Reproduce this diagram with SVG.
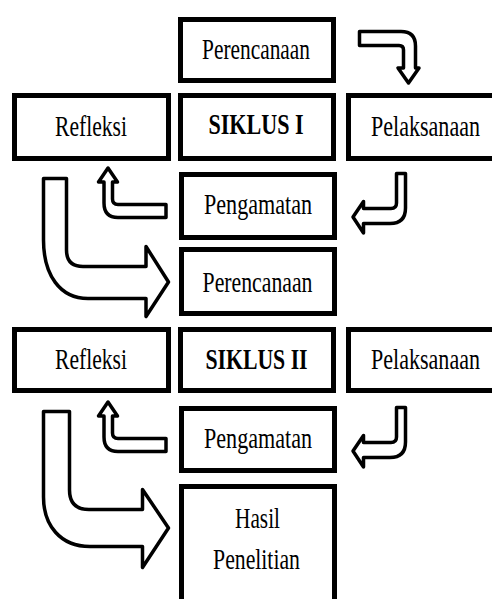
<svg xmlns="http://www.w3.org/2000/svg" width="492" height="599" viewBox="0 0 492 599">
<style>
.box{fill:#fff;stroke:#000;stroke-width:5}
.t{font-family:"Liberation Serif","Times New Roman",serif;font-size:30px;fill:#000;text-anchor:middle}
.b{font-weight:bold}
.arr{fill:#fff;stroke:#000;stroke-width:3.5;stroke-linejoin:round}
</style>
<rect width="492" height="599" fill="#fff"/>
<g id="connectors">
<path class="arr" d="M359.5,31.5 H401 Q415.5,31.5 415.5,46 V68 H419 L408.5,83 L398,68 H403.5 V50 Q403.5,45.5 399,45.5 H359.5 Z"/>
<path class="arr" d="M396.5,173.5 H405.5 V208 Q405.5,223.5 390,223.5 H363.5 V233 L353,217 L363.5,201.5 V208.5 H391 Q396.5,208.5 396.5,203 Z"/>
<path class="arr" d="M108,168 L117.5,182 H112.5 V199 Q112.5,204.5 118,204.5 H166 V217.5 H118 Q104,217.5 104,203 V182 H98.5 Z"/>
<path class="arr" d="M43.5,178.5 H66.5 V250 Q66.5,266.5 83,266.5 H146 V246.5 L168.5,282 L146,316.5 V298.5 H88 C60,298.5 43.5,275 43.5,240 Z"/>
<path class="arr" d="M396.5,407.5 H405.5 V442 Q405.5,457.5 390,457.5 H363.5 V467 L353,451 L363.5,435.5 V442.5 H391 Q396.5,442.5 396.5,437 Z"/>
<path class="arr" d="M108,402 L117.5,416 H112.5 V433 Q112.5,438.5 118,438.5 H166 V451.5 H118 Q104,451.5 104,437 V416 H98.5 Z"/>
<path class="arr" d="M43.5,411.5 H69.5 V490 Q69.5,509.5 89,509.5 H142.5 V489.5 L168.5,528 L142.5,567.5 V546.5 H90 C60,546.5 43.5,525 43.5,497 Z"/>
</g>
<g id="perencanaan1"><rect class="box" x="180.5" y="19.5" width="153" height="61"/><text class="t" transform="translate(256,59) scale(0.712,1)">Perencanaan</text></g>
<g id="refleksi1"><rect class="box" x="14.5" y="95.5" width="154" height="63"/><text class="t" transform="translate(91,136) scale(0.72,1)">Refleksi</text></g>
<g id="siklus1"><rect class="box" x="180.5" y="95.5" width="153" height="63"/><text class="t b" transform="translate(256,134) scale(0.736,1)">SIKLUS I</text></g>
<g id="pelaksanaan1"><rect class="box" x="348.5" y="95.5" width="148" height="63"/><text class="t" transform="translate(425.5,136) scale(0.735,1)">Pelaksanaan</text></g>
<g id="pengamatan1"><rect class="box" x="181.5" y="174.5" width="153" height="63"/><text class="t" transform="translate(258,214) scale(0.737,1)">Pengamatan</text></g>
<g id="perencanaan2"><rect class="box" x="181.5" y="249.5" width="153" height="64"/><text class="t" transform="translate(257.5,292) scale(0.725,1)">Perencanaan</text></g>
<g id="refleksi2"><rect class="box" x="14.5" y="329.5" width="154" height="61"/><text class="t" transform="translate(91,369) scale(0.72,1)">Refleksi</text></g>
<g id="siklus2"><rect class="box" x="180.5" y="329.5" width="153" height="61"/><text class="t b" transform="translate(256.5,369) scale(0.725,1)">SIKLUS II</text></g>
<g id="pelaksanaan2"><rect class="box" x="348.5" y="329.5" width="148" height="61"/><text class="t" transform="translate(425.5,369) scale(0.735,1)">Pelaksanaan</text></g>
<g id="pengamatan2"><rect class="box" x="181.5" y="408.5" width="153" height="62"/><text class="t" transform="translate(258,448) scale(0.737,1)">Pengamatan</text></g>
<g id="hasil"><rect class="box" x="181.5" y="486.5" width="153" height="118"/><text class="t" transform="translate(257.5,528) scale(0.71,1)">Hasil</text><text class="t" transform="translate(256.5,569) scale(0.725,1)">Penelitian</text></g>
</svg>
